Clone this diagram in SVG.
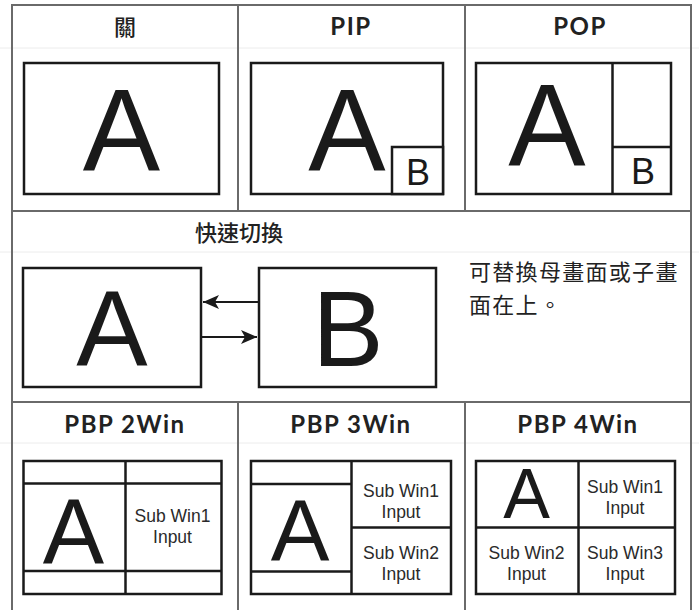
<svg xmlns="http://www.w3.org/2000/svg" width="699" height="610" viewBox="0 0 699 610">
<defs>
<style>
.grid{stroke:#6a6a6a;stroke-width:2;fill:none}
.faint{stroke:#ececec;stroke-width:1;fill:none}
.box{stroke:#1a1a1a;stroke-width:2.5;fill:#fff}
.ln{stroke:#1a1a1a;stroke-width:2.5;fill:none}
.big{font-family:"Liberation Sans",Arial,sans-serif;fill:#1a1a1a;text-anchor:middle}
.ttl{font-family:Lato,"Open Sans",sans-serif;font-weight:bold;font-size:24px;fill:#222;text-anchor:middle;letter-spacing:1.5px}
.cjk{font-family:"Noto Sans CJK TC","Noto Sans CJK SC",sans-serif;fill:#222}
.sub{font-family:"Liberation Sans",Arial,sans-serif;font-size:17.5px;fill:#2a2a2a;text-anchor:middle}
.arr{stroke:#1a1a1a;stroke-width:1.8;fill:none}
</style>
<marker id="ah" markerUnits="userSpaceOnUse" markerWidth="18" markerHeight="14" refX="16" refY="7" orient="auto">
<path d="M0,0 L16,7 L0,14 L4,7 Z" fill="#1a1a1a"/>
</marker>
</defs>
<rect width="699" height="610" fill="#fff"/>
<g id="table">
<line class="faint" x1="0" y1="48" x2="699" y2="48"/>
<line class="faint" x1="0" y1="252" x2="699" y2="252"/>
<line class="faint" x1="0" y1="443" x2="699" y2="443"/>
<line class="grid" x1="12" y1="5" x2="691" y2="5"/>
<line class="grid" x1="12" y1="4" x2="12" y2="610"/>
<line class="grid" x1="691" y1="4" x2="691" y2="610"/>
<line class="grid" x1="12" y1="211" x2="691" y2="211"/>
<line class="grid" x1="12" y1="402" x2="691" y2="402"/>
<line class="grid" x1="238" y1="5" x2="238" y2="211"/>
<line class="grid" x1="465" y1="5" x2="465" y2="211"/>
<line class="grid" x1="238" y1="402" x2="238" y2="610"/>
<line class="grid" x1="465" y1="402" x2="465" y2="610"/>
</g>
<g id="off">
<text class="cjk" x="125" y="35" font-size="22" font-weight="500" text-anchor="middle">關</text>
<rect class="box" x="24" y="63" width="195" height="131"/>
<text class="big" x="121.5" y="171" font-size="116">A</text>
</g>
<g id="pip">
<text class="ttl" x="351" y="35">PIP</text>
<rect class="box" x="251" y="63" width="192" height="131"/>
<text class="big" x="347" y="171" font-size="116">A</text>
<rect class="box" x="392" y="147" width="51" height="47"/>
<text class="big" x="418" y="185" font-size="36">B</text>
</g>
<g id="pop">
<text class="ttl" x="580" y="35">POP</text>
<rect class="box" x="476" y="63" width="195" height="131"/>
<line class="ln" x1="612.5" y1="63" x2="612.5" y2="194"/>
<line class="ln" x1="612.5" y1="147" x2="671" y2="147"/>
<text class="big" x="547" y="166" font-size="116">A</text>
<text class="big" x="643" y="184" font-size="36">B</text>
</g>
<g id="swap">
<text class="cjk" x="239" y="241" font-size="22" font-weight="500" text-anchor="middle">快速切換</text>
<g id="swapA">
<rect class="box" x="23" y="268" width="178" height="119"/>
<text class="big" x="112" y="366" font-size="107">A</text>
</g>
<g id="swapB">
<rect class="box" x="259" y="268" width="177" height="119"/>
<text class="big" x="348" y="366" font-size="107">B</text>
</g>
<text class="cjk" font-size="22" fill="#333" letter-spacing="1.3"><tspan x="469" y="280">可替換母畫面或子畫</tspan><tspan x="469" y="312.5">面在上。</tspan></text>
</g>
<g id="connectors">
<line class="arr" x1="259" y1="302" x2="203" y2="302" marker-end="url(#ah)"/>
<line class="arr" x1="201" y1="337" x2="257" y2="337" marker-end="url(#ah)"/>
</g>
<g id="pbp2">
<text class="ttl" x="125" y="433">PBP 2Win</text>
<rect class="box" x="23.5" y="461" width="198" height="133"/>
<line class="ln" x1="125.5" y1="461" x2="125.5" y2="594"/>
<line class="ln" x1="23.5" y1="483.5" x2="221.5" y2="483.5"/>
<line class="ln" x1="23.5" y1="571" x2="221.5" y2="571"/>
<text class="big" x="73.5" y="564" font-size="92">A</text>
<text class="sub" x="172.5" y="522">Sub Win1</text>
<text class="sub" x="172.5" y="543">Input</text>
</g>
<g id="pbp3">
<text class="ttl" x="351" y="433">PBP 3Win</text>
<rect class="box" x="251" y="461" width="200" height="133"/>
<line class="ln" x1="351.5" y1="461" x2="351.5" y2="594"/>
<line class="ln" x1="251" y1="484" x2="351.5" y2="484"/>
<line class="ln" x1="251" y1="571.5" x2="351.5" y2="571.5"/>
<line class="ln" x1="351.5" y1="527.5" x2="451" y2="527.5"/>
<text class="big" x="300" y="561" font-size="88">A</text>
<text class="sub" x="401" y="497">Sub Win1</text>
<text class="sub" x="401" y="518">Input</text>
<text class="sub" x="401" y="559">Sub Win2</text>
<text class="sub" x="401" y="580">Input</text>
</g>
<g id="pbp4">
<text class="ttl" x="578" y="433">PBP 4Win</text>
<rect class="box" x="476" y="461" width="199" height="133"/>
<line class="ln" x1="578.5" y1="461" x2="578.5" y2="594"/>
<line class="ln" x1="476" y1="527.5" x2="675" y2="527.5"/>
<text class="big" x="526.5" y="518" font-size="70">A</text>
<text class="sub" x="625" y="493">Sub Win1</text>
<text class="sub" x="625" y="514">Input</text>
<text class="sub" x="526.5" y="559">Sub Win2</text>
<text class="sub" x="526.5" y="580">Input</text>
<text class="sub" x="625" y="559">Sub Win3</text>
<text class="sub" x="625" y="580">Input</text>
</g>
</svg>
